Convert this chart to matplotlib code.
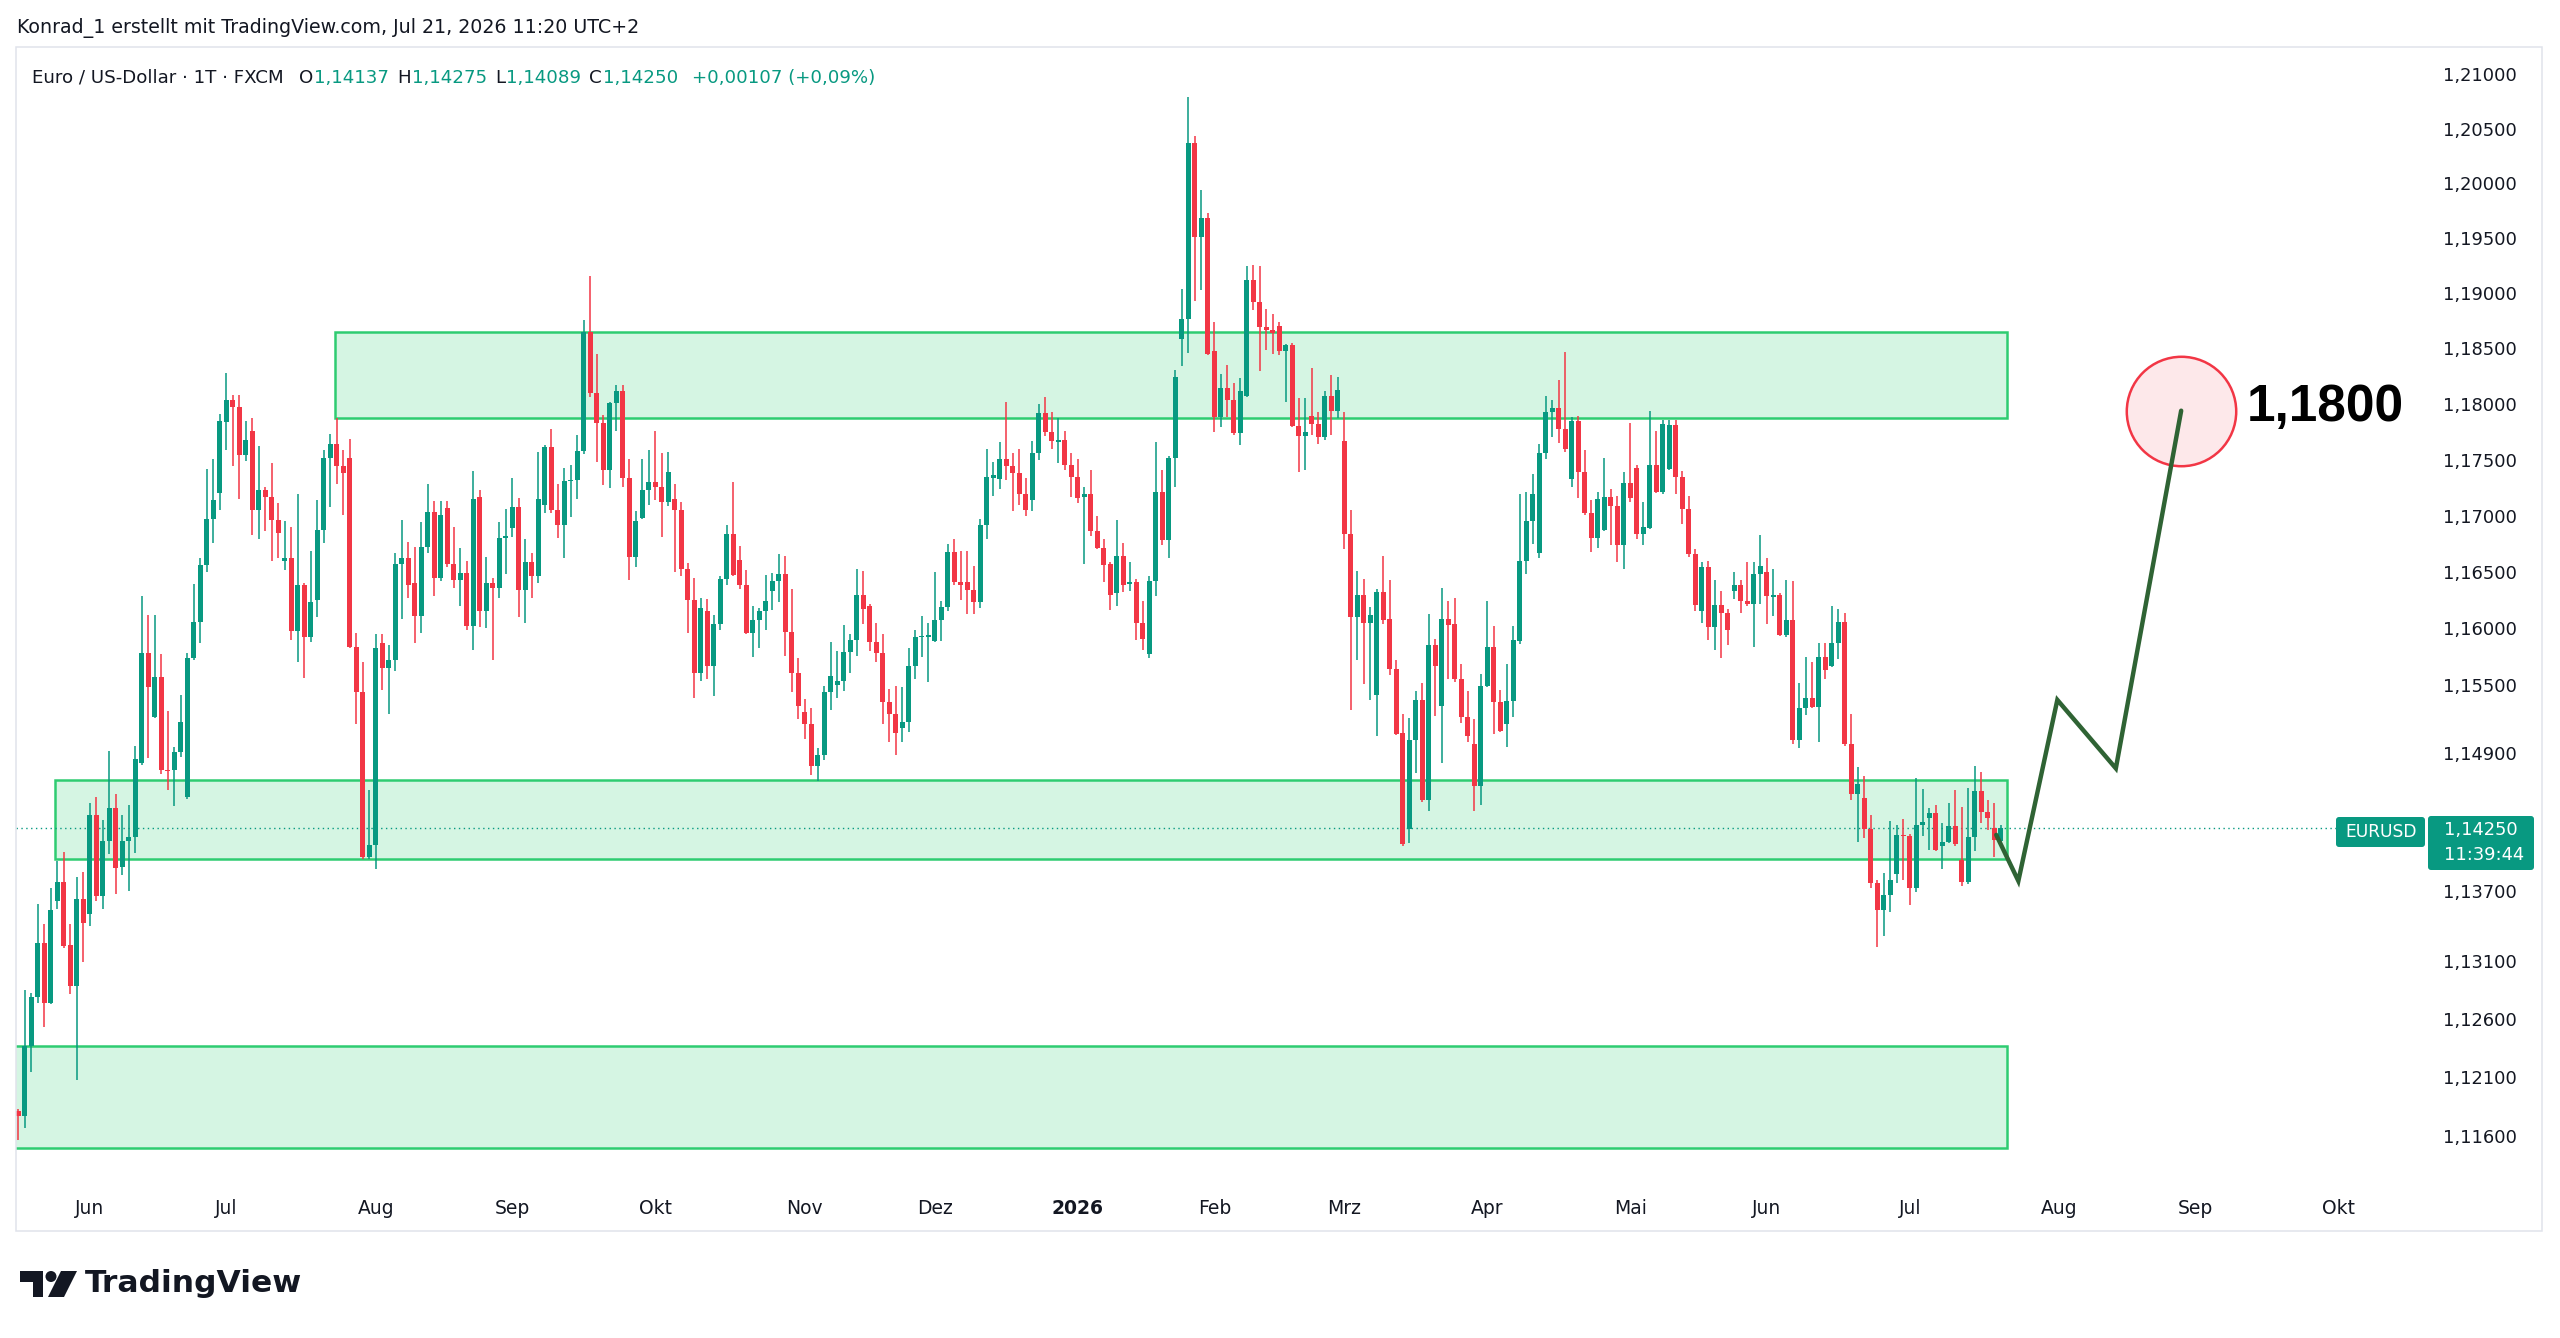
import numpy as np
import pandas as pd
import matplotlib
matplotlib.use('Agg')
import matplotlib.pyplot as plt
from matplotlib.patches import Rectangle, Polygon, Circle, FancyBboxPatch
from matplotlib.ticker import FixedLocator, NullLocator, NullFormatter
from matplotlib.transforms import IdentityTransform

W, H = 2560, 1338

# daily EURUSD candles, 2025-05-16 .. 2026-07-21 (FXCM, no bars on Dec 25 / Jan 1)
opens = [
    1.1181, 1.1177, 1.1237, 1.1279, 1.1325, 1.1274, 1.1362, 1.1378, 1.1324, 1.1288,
    1.1363, 1.1350, 1.1436, 1.1366, 1.1414, 1.1442, 1.1391, 1.1414, 1.1417, 1.1482,
    1.1578, 1.1522, 1.1557, 1.1476, 1.1476, 1.1491, 1.1452, 1.1574, 1.1606, 1.1656,
    1.1697, 1.1720, 1.1784, 1.1804, 1.1797, 1.1754, 1.1776, 1.1705, 1.1723, 1.1717,
    1.1696, 1.1660, 1.1662, 1.1598, 1.1638, 1.1592, 1.1625, 1.1687, 1.1752, 1.1764,
    1.1744, 1.1752, 1.1584, 1.1544, 1.1400, 1.1410, 1.1587, 1.1565, 1.1572, 1.1657,
    1.1662, 1.1640, 1.1611, 1.1672, 1.1703, 1.1645, 1.1707, 1.1657, 1.1643, 1.1649,
    1.1602, 1.1717, 1.1615, 1.1640, 1.1636, 1.1680, 1.1689, 1.1708, 1.1634, 1.1659,
    1.1646, 1.1710, 1.1761, 1.1705, 1.1692, 1.1731, 1.1732, 1.1758, 1.1865, 1.1810,
    1.1783, 1.1741, 1.1801, 1.1812, 1.1734, 1.1663, 1.1698, 1.1723, 1.1730, 1.1726,
    1.1712, 1.1715, 1.1705, 1.1653, 1.1625, 1.1561, 1.1615, 1.1567, 1.1604, 1.1644,
    1.1684, 1.1661, 1.1638, 1.1596, 1.1607, 1.1615, 1.1633, 1.1642, 1.1648, 1.1597,
    1.1561, 1.1526, 1.1516, 1.1479, 1.1489, 1.1544, 1.1550, 1.1554, 1.1579, 1.1590,
    1.1630, 1.1620, 1.1588, 1.1578, 1.1535, 1.1525, 1.1512, 1.1518, 1.1567, 1.1592,
    1.1592, 1.1589, 1.1607, 1.1619, 1.1668, 1.1641, 1.1641, 1.1634, 1.1623, 1.1692,
    1.1734, 1.1733, 1.1751, 1.1744, 1.1738, 1.1719, 1.1714, 1.1756, 1.1792, 1.1775,
    1.1766, 1.1768, 1.1745, 1.1735, 1.1717, 1.1719, 1.1686, 1.1671, 1.1657, 1.1631,
    1.1664, 1.1639, 1.1641, 1.1605, 1.1577, 1.1642, 1.1721, 1.1678, 1.1752, 1.1859,
    1.1877, 1.2037, 1.1951, 1.1968, 1.1848, 1.1788, 1.1814, 1.1804, 1.1774, 1.1807,
    1.1912, 1.1892, 1.1869, 1.1867, 1.1870, 1.1848, 1.1853, 1.1780, 1.1771, 1.1789,
    1.1782, 1.1770, 1.1807, 1.1794, 1.1767, 1.1684, 1.1610, 1.1630, 1.1605, 1.1541,
    1.1632, 1.1608, 1.1564, 1.1508, 1.1424, 1.1502, 1.1537, 1.1449, 1.1585, 1.1532,
    1.1608, 1.1604, 1.1555, 1.1522, 1.1498, 1.1462, 1.1549, 1.1584, 1.1535, 1.1516,
    1.1536, 1.1589, 1.1660, 1.1695, 1.1667, 1.1756, 1.1793, 1.1796, 1.1778, 1.1733,
    1.1785, 1.1739, 1.1702, 1.1680, 1.1687, 1.1717, 1.1709, 1.1674, 1.1729, 1.1743,
    1.1684, 1.1689, 1.1745, 1.1721, 1.1742, 1.1781, 1.1735, 1.1706, 1.1666, 1.1615,
    1.1654, 1.1601, 1.1621, 1.1614, 1.1633, 1.1638, 1.1624, 1.1622, 1.1648, 1.1650,
    1.1628, 1.1630, 1.1594, 1.1607, 1.1502, 1.1530, 1.1539, 1.1531, 1.1575, 1.1567,
    1.1587, 1.1606, 1.1498, 1.1455, 1.1451, 1.1424, 1.1377, 1.1354, 1.1367, 1.1385,
    1.1419, 1.1418, 1.1373, 1.1428, 1.1434, 1.1438, 1.1409, 1.1413, 1.1427, 1.1397,
    1.1378, 1.1417, 1.1457, 1.1439, 1.1425, 1.14137,
]
highs = [
    1.1183, 1.1285, 1.1282, 1.1359, 1.1342, 1.1373, 1.1396, 1.1404, 1.1342, 1.1382,
    1.1387, 1.1447, 1.1452, 1.1432, 1.1492, 1.1455, 1.1436, 1.1445, 1.1497, 1.1629,
    1.1612, 1.1612, 1.1577, 1.1527, 1.1496, 1.1541, 1.1578, 1.1639, 1.1662, 1.1742,
    1.1751, 1.1791, 1.1828, 1.1808, 1.1808, 1.1785, 1.1787, 1.1762, 1.1726, 1.1747,
    1.1711, 1.1695, 1.1690, 1.1719, 1.1640, 1.1669, 1.1714, 1.1759, 1.1773, 1.1787,
    1.1759, 1.1769, 1.1596, 1.1570, 1.1458, 1.1595, 1.1595, 1.1585, 1.1667, 1.1696,
    1.1677, 1.1672, 1.1694, 1.1728, 1.1713, 1.1713, 1.1713, 1.1690, 1.1671, 1.1660,
    1.1740, 1.1723, 1.1663, 1.1645, 1.1694, 1.1706, 1.1734, 1.1716, 1.1679, 1.1667,
    1.1757, 1.1763, 1.1778, 1.1728, 1.1743, 1.1745, 1.1772, 1.1876, 1.1916, 1.1845,
    1.1790, 1.1802, 1.1817, 1.1817, 1.1751, 1.1704, 1.1751, 1.1759, 1.1776, 1.1756,
    1.1757, 1.1728, 1.1712, 1.1658, 1.1645, 1.1627, 1.1626, 1.1612, 1.1646, 1.1692,
    1.1730, 1.1673, 1.1652, 1.1620, 1.1618, 1.1647, 1.1649, 1.1666, 1.1664, 1.1635,
    1.1574, 1.1538, 1.1530, 1.1495, 1.1549, 1.1588, 1.1580, 1.1603, 1.1595, 1.1653,
    1.1651, 1.1622, 1.1605, 1.1595, 1.1547, 1.1549, 1.1548, 1.1583, 1.1599, 1.1611,
    1.1605, 1.1650, 1.1624, 1.1675, 1.1679, 1.1669, 1.1669, 1.1655, 1.1697, 1.1760,
    1.1748, 1.1766, 1.1802, 1.1756, 1.1760, 1.1734, 1.1767, 1.1800, 1.1806, 1.1793,
    1.1787, 1.1776, 1.1756, 1.1751, 1.1726, 1.1741, 1.1700, 1.1679, 1.1659, 1.1696,
    1.1676, 1.1659, 1.1644, 1.1624, 1.1646, 1.1766, 1.1741, 1.1753, 1.1831, 1.1904,
    1.2079, 1.2043, 1.1994, 1.1973, 1.1874, 1.1827, 1.1835, 1.1819, 1.1823, 1.1925,
    1.1926, 1.1925, 1.1886, 1.1881, 1.1874, 1.1854, 1.1855, 1.1805, 1.1805, 1.1832,
    1.1793, 1.1812, 1.1826, 1.1824, 1.1793, 1.1705, 1.1651, 1.1644, 1.1619, 1.1635,
    1.1664, 1.1643, 1.1572, 1.1525, 1.1521, 1.1545, 1.1552, 1.1613, 1.1591, 1.1636,
    1.1624, 1.1627, 1.1569, 1.1545, 1.1520, 1.1560, 1.1624, 1.1602, 1.1546, 1.1569,
    1.1602, 1.1719, 1.1721, 1.1737, 1.1764, 1.1807, 1.1804, 1.1822, 1.1847, 1.1788,
    1.1789, 1.1759, 1.1714, 1.1721, 1.1752, 1.1724, 1.1718, 1.1739, 1.1783, 1.1745,
    1.1712, 1.1794, 1.1776, 1.1786, 1.1786, 1.1786, 1.1740, 1.1718, 1.1670, 1.1659,
    1.1660, 1.1643, 1.1633, 1.1617, 1.1650, 1.1643, 1.1659, 1.1659, 1.1683, 1.1662,
    1.1653, 1.1631, 1.1643, 1.1642, 1.1552, 1.1575, 1.1570, 1.1587, 1.1587, 1.1620,
    1.1617, 1.1614, 1.1525, 1.1478, 1.1470, 1.1436, 1.1380, 1.1386, 1.1431, 1.1428,
    1.1433, 1.1420, 1.1469, 1.1459, 1.1442, 1.1445, 1.1429, 1.1447, 1.1458, 1.1443,
    1.1460, 1.1479, 1.1474, 1.1449, 1.1447, 1.14275,
]
lows = [
    1.1157, 1.1167, 1.1215, 1.1274, 1.1253, 1.1273, 1.1355, 1.1321, 1.1281, 1.1208,
    1.1309, 1.1340, 1.1362, 1.1355, 1.1402, 1.1368, 1.1384, 1.1370, 1.1403, 1.1480,
    1.1486, 1.1521, 1.1472, 1.1458, 1.1444, 1.1487, 1.1450, 1.1572, 1.1587, 1.1650,
    1.1676, 1.1705, 1.1759, 1.1744, 1.1715, 1.1749, 1.1683, 1.1679, 1.1686, 1.1660,
    1.1662, 1.1652, 1.1590, 1.1570, 1.1556, 1.1588, 1.1610, 1.1676, 1.1708, 1.1728,
    1.1701, 1.1583, 1.1516, 1.1398, 1.1398, 1.1389, 1.1546, 1.1525, 1.1562, 1.1608,
    1.1627, 1.1587, 1.1596, 1.1667, 1.1629, 1.1642, 1.1654, 1.1636, 1.1620, 1.1599,
    1.1581, 1.1601, 1.1600, 1.1572, 1.1627, 1.1648, 1.1681, 1.1610, 1.1605, 1.1627,
    1.1640, 1.1702, 1.1702, 1.1680, 1.1662, 1.1699, 1.1715, 1.1755, 1.1806, 1.1748,
    1.1727, 1.1725, 1.1776, 1.1726, 1.1643, 1.1654, 1.1697, 1.1710, 1.1714, 1.1681,
    1.1709, 1.1650, 1.1646, 1.1596, 1.1539, 1.1554, 1.1555, 1.1540, 1.1599, 1.1638,
    1.1646, 1.1635, 1.1595, 1.1575, 1.1583, 1.1599, 1.1616, 1.1623, 1.1576, 1.1544,
    1.1520, 1.1503, 1.1471, 1.1466, 1.1484, 1.1528, 1.1539, 1.1545, 1.1561, 1.1576,
    1.1604, 1.1580, 1.1570, 1.1516, 1.1500, 1.1489, 1.1500, 1.1509, 1.1555, 1.1575,
    1.1553, 1.1588, 1.1589, 1.1615, 1.1638, 1.1625, 1.1613, 1.1613, 1.1618, 1.1679,
    1.1718, 1.1724, 1.1732, 1.1704, 1.1710, 1.1700, 1.1704, 1.1750, 1.1771, 1.1760,
    1.1747, 1.1741, 1.1717, 1.1711, 1.1657, 1.1682, 1.1670, 1.1641, 1.1616, 1.1620,
    1.1632, 1.1633, 1.1590, 1.1581, 1.1574, 1.1629, 1.1674, 1.1662, 1.1726, 1.1834,
    1.1846, 1.1893, 1.1903, 1.1844, 1.1775, 1.1779, 1.1788, 1.1772, 1.1763, 1.1806,
    1.1885, 1.1830, 1.1849, 1.1845, 1.1844, 1.1802, 1.1779, 1.1739, 1.1741, 1.1772,
    1.1764, 1.1768, 1.1772, 1.1787, 1.1670, 1.1528, 1.1572, 1.1551, 1.1537, 1.1505,
    1.1604, 1.1559, 1.1506, 1.1409, 1.1412, 1.1473, 1.1448, 1.1440, 1.1523, 1.1482,
    1.1555, 1.1553, 1.1517, 1.1500, 1.1440, 1.1445, 1.1548, 1.1507, 1.1509, 1.1496,
    1.1522, 1.1586, 1.1648, 1.1675, 1.1662, 1.1751, 1.1770, 1.1765, 1.1757, 1.1726,
    1.1716, 1.1701, 1.1668, 1.1671, 1.1686, 1.1674, 1.1659, 1.1653, 1.1712, 1.1679,
    1.1674, 1.1688, 1.1720, 1.1719, 1.1741, 1.1719, 1.1693, 1.1663, 1.1615, 1.1605,
    1.1590, 1.1581, 1.1574, 1.1585, 1.1626, 1.1614, 1.1620, 1.1584, 1.1622, 1.1604,
    1.1611, 1.1593, 1.1592, 1.1498, 1.1495, 1.1524, 1.1530, 1.1500, 1.1555, 1.1566,
    1.1573, 1.1497, 1.1449, 1.1413, 1.1416, 1.1373, 1.1322, 1.1331, 1.1352, 1.1377,
    1.1380, 1.1358, 1.1369, 1.1418, 1.1406, 1.1405, 1.1389, 1.1412, 1.1409, 1.1375,
    1.1376, 1.1405, 1.1429, 1.1423, 1.1400, 1.14089,
]
closes = [
    1.1177, 1.1237, 1.1279, 1.1325, 1.1274, 1.1354, 1.1378, 1.1323, 1.1288, 1.1363,
    1.1343, 1.1436, 1.1366, 1.1414, 1.1442, 1.1390, 1.1414, 1.1417, 1.1485, 1.1578,
    1.1548, 1.1557, 1.1476, 1.1475, 1.1491, 1.1518, 1.1574, 1.1606, 1.1656, 1.1697,
    1.1714, 1.1785, 1.1804, 1.1797, 1.1754, 1.1768, 1.1705, 1.1723, 1.1717, 1.1696,
    1.1685, 1.1662, 1.1598, 1.1638, 1.1592, 1.1623, 1.1687, 1.1752, 1.1764, 1.1744,
    1.1738, 1.1584, 1.1544, 1.1400, 1.1410, 1.1583, 1.1565, 1.1572, 1.1657, 1.1662,
    1.1638, 1.1611, 1.1672, 1.1703, 1.1645, 1.1701, 1.1657, 1.1643, 1.1649, 1.1602,
    1.1715, 1.1615, 1.1640, 1.1636, 1.1680, 1.1682, 1.1708, 1.1634, 1.1659, 1.1646,
    1.1715, 1.1761, 1.1705, 1.1692, 1.1731, 1.1732, 1.1758, 1.1865, 1.1810, 1.1783,
    1.1741, 1.1801, 1.1812, 1.1734, 1.1663, 1.1695, 1.1723, 1.1730, 1.1726, 1.1712,
    1.1739, 1.1705, 1.1653, 1.1625, 1.1561, 1.1618, 1.1567, 1.1604, 1.1644, 1.1684,
    1.1647, 1.1638, 1.1596, 1.1607, 1.1615, 1.1624, 1.1642, 1.1648, 1.1597, 1.1561,
    1.1532, 1.1516, 1.1479, 1.1489, 1.1544, 1.1558, 1.1554, 1.1579, 1.1590, 1.1630,
    1.1617, 1.1588, 1.1578, 1.1535, 1.1525, 1.1508, 1.1518, 1.1567, 1.1592, 1.1593,
    1.1594, 1.1607, 1.1619, 1.1668, 1.1641, 1.1638, 1.1634, 1.1623, 1.1692, 1.1735,
    1.1736, 1.1751, 1.1744, 1.1738, 1.1719, 1.1705, 1.1756, 1.1792, 1.1775, 1.1767,
    1.1768, 1.1745, 1.1735, 1.1716, 1.1719, 1.1686, 1.1671, 1.1656, 1.1630, 1.1664,
    1.1638, 1.1641, 1.1605, 1.1591, 1.1642, 1.1721, 1.1678, 1.1752, 1.1824, 1.1877,
    1.2037, 1.1951, 1.1968, 1.1845, 1.1788, 1.1814, 1.1804, 1.1774, 1.1812, 1.1912,
    1.1892, 1.1869, 1.1867, 1.1864, 1.1848, 1.1853, 1.1780, 1.1771, 1.1775, 1.1782,
    1.1770, 1.1807, 1.1794, 1.1813, 1.1684, 1.1610, 1.1630, 1.1605, 1.1612, 1.1632,
    1.1607, 1.1564, 1.1507, 1.1411, 1.1502, 1.1537, 1.1449, 1.1585, 1.1567, 1.1608,
    1.1603, 1.1555, 1.1522, 1.1505, 1.1462, 1.1549, 1.1584, 1.1535, 1.1510, 1.1536,
    1.1590, 1.1660, 1.1695, 1.1719, 1.1756, 1.1793, 1.1796, 1.1778, 1.1760, 1.1785,
    1.1739, 1.1702, 1.1680, 1.1715, 1.1717, 1.1709, 1.1674, 1.1729, 1.1716, 1.1684,
    1.1690, 1.1745, 1.1721, 1.1782, 1.1781, 1.1735, 1.1706, 1.1666, 1.1621, 1.1654,
    1.1601, 1.1621, 1.1614, 1.1599, 1.1638, 1.1624, 1.1622, 1.1648, 1.1655, 1.1629,
    1.1630, 1.1594, 1.1607, 1.1502, 1.1530, 1.1539, 1.1531, 1.1575, 1.1563, 1.1587,
    1.1606, 1.1498, 1.1455, 1.1463, 1.1424, 1.1377, 1.1354, 1.1367, 1.1380, 1.1419,
    1.1418, 1.1373, 1.1428, 1.1430, 1.1438, 1.1406, 1.1413, 1.1427, 1.1411, 1.1378,
    1.1417, 1.1457, 1.1439, 1.1434, 1.14143, 1.14250,
]

# drawings on the chart (bar index, price)
zones = [  # left, right, low, high
    (48.7, 306.0, 1.1787, 1.1865),
    (5.65, 306.0, 1.1398, 1.1467),
    (-3.0, 306.0, 1.1150, 1.1237),
]
path_x = [304.3, 307.7, 313.7, 322.7, 332.75]
path_y = [1.1419, 1.1379, 1.1537, 1.1477, 1.1794]
target_label = "1,1800"

price_ticks = [1.21, 1.205, 1.20, 1.195, 1.19, 1.185, 1.18, 1.175, 1.17, 1.165,
               1.16, 1.155, 1.149, 1.137, 1.131, 1.126, 1.121, 1.116]
month_names = ['Jan', 'Feb', 'Mrz', 'Apr', 'Mai', 'Jun', 'Jul', 'Aug', 'Sep',
               'Okt', 'Nov', 'Dez']
holidays = pd.to_datetime(['2025-12-25', '2026-01-01'])

GREEN = '#089981'
RED = '#f23645'
INK = '#131722'


def fmt(v, sign=False):
    s = f"{v:+.5f}" if sign else f"{v:.5f}"
    return s.replace('.', ',')


o = np.array(opens)
h = np.array(highs)
l = np.array(lows)
c = np.array(closes)
x = np.arange(len(c))

dates = pd.bdate_range('2025-05-16', '2026-10-30')
dates = dates[~dates.isin(holidays)]

fig = plt.figure(figsize=(W / 100, H / 100), dpi=100)
fig.patch.set_facecolor('white')


def fx(px):
    return px / W


def fy(py):
    return 1 - py / H


ax = fig.add_axes([fx(16), fy(1188), fx(2427) - fx(16), fy(47) - fy(1188)])
ax.set_yscale('log')
ax.set_ylim(1.111593, 1.21253)
ax.set_xlim(-0.354, 370.57)
for s in ax.spines.values():
    s.set_visible(False)

# zones
for x0, x1, y0, y1 in zones:
    ax.add_patch(Rectangle((x0, y0), x1 - x0, y1 - y0, facecolor='#d5f5e3',
                           edgecolor='#2ecc71', lw=1.8, zorder=1))

# last price line
ax.axhline(c[-1], color=GREEN, lw=1, ls=(0, (1, 2.5)), zorder=2)

# candles
up = c >= o
col = np.where(up, GREEN, RED)
ax.vlines(x, l, h, colors=col, lw=1.1, zorder=3)
ax.bar(x, np.maximum(np.abs(c - o), 0.00009), bottom=np.minimum(o, c),
       width=0.74, color=col, linewidth=0, zorder=4)

# projection path and target
ax.plot([path_x[-1]], [path_y[-1]], 'o', ms=78.8, mfc='#fde8ea', mec=RED,
        mew=1.8, zorder=5)
ax.plot(path_x, path_y, color='#2f6334', lw=3.2, solid_joinstyle='miter',
        solid_capstyle='round', zorder=6)
tgt = ax.annotate(target_label, xy=(path_x[-1], path_y[-1]), xytext=(47, -7.4),
                  textcoords='offset points', ha='left', va='baseline',
                  fontsize=36, fontweight='bold', family='Liberation Sans',
                  color='black', zorder=7)

# price scale
ax.yaxis.tick_right()
ax.yaxis.set_major_locator(FixedLocator(price_ticks))
ax.yaxis.set_minor_locator(NullLocator())
ax.yaxis.set_minor_formatter(NullFormatter())
ax.set_yticklabels([fmt(v) for v in price_ticks])
ax.tick_params(axis='y', length=0, pad=11.5, labelsize=12.9, labelcolor=INK)

# time scale
tick_pos, tick_lab = [], []
for i in range(1, len(dates)):
    if i > 371:
        break
    if dates[i].month != dates[i - 1].month:
        tick_pos.append(i)
        m = dates[i].month
        tick_lab.append(str(dates[i].year) if m == 1 else month_names[m - 1])
ax.set_xticks(tick_pos)
ax.set_xticklabels(tick_lab)
ax.tick_params(axis='x', length=0, pad=7.6, labelsize=13.5, labelcolor=INK)
for t in ax.get_xticklabels():
    if t.get_text().isdigit():
        t.set_fontweight('bold')

renderer = fig.canvas.get_renderer()


def fit(t, width_px):
    w = t.get_window_extent(renderer).width
    t.set_fontsize(t.get_fontsize() * width_px / w)


fit(tgt, 157)

# pane border
fig.add_artist(Rectangle((16, H - 1231), 2526, 1184, transform=IdentityTransform(),
                         fill=False, edgecolor='#e0e3eb', lw=1.1))

# header
t1 = fig.text(fx(17), fy(33.3), "Konrad_1 erstellt mit TradingView.com, Jul 21, 2026 11:20 UTC+2",
              fontsize=12.5, color=INK, va='baseline')
fit(t1, 623)

chg = c[-1] - c[-2]
pct = chg / c[-2] * 100
segments = [  # text, colour, gap before it (px)
    ("Euro / US-Dollar \u00b7 1T \u00b7 FXCM", INK, 0),
    ("O", INK, 16), (fmt(o[-1]), GREEN, 1),
    ("H", INK, 8), (fmt(h[-1]), GREEN, 1),
    ("L", INK, 8), (fmt(l[-1]), GREEN, 1),
    ("C", INK, 8), (fmt(c[-1]), GREEN, 1),
    (f"{fmt(chg, True)} ({pct:+.2f}%)".replace('.', ','), GREEN, 14),
]
seg_texts = [fig.text(0, fy(82.7), s, fontsize=12.0, color=cl, va='baseline')
             for s, cl, _ in segments]


def layout_line(size):
    xpos = 31.6
    for t, (_, _, gap) in zip(seg_texts, segments):
        t.set_fontsize(size)
        xpos += gap
        t.set_x(fx(xpos))
        xpos += t.get_window_extent(renderer).width
    return xpos - 31.6


size = 12.0
for _ in range(3):
    total = layout_line(size)
    size *= 849 / total
layout_line(size)

# last price tags
fig.add_artist(FancyBboxPatch((2336, H - 847), 89, 30, boxstyle='round,pad=0,rounding_size=3',
                              transform=IdentityTransform(), facecolor=GREEN, edgecolor='none'))
fig.add_artist(FancyBboxPatch((2428, H - 870), 106, 54, boxstyle='round,pad=0,rounding_size=3',
                              transform=IdentityTransform(), facecolor=GREEN, edgecolor='none'))
tag = fig.text(fx(2381), fy(832), "EURUSD", color='white', ha='center', va='center',
               fontsize=12.5)
fit(tag, 72)
fig.text(fx(2444), fy(830), fmt(c[-1]), color='white', va='center', fontsize=12.9)
fig.text(fx(2444), fy(855), "11:39:44", color='white', va='center', fontsize=12.9)

# TradingView logo
fig.add_artist(Polygon([(20, H - 1271), (43, H - 1271), (43, H - 1297), (33, H - 1297),
                        (33, H - 1282), (20, H - 1282)], closed=True,
                       transform=IdentityTransform(), facecolor=INK, edgecolor='none'))
fig.add_artist(Circle((51, H - 1276.5), 5.5, transform=IdentityTransform(),
                      facecolor=INK, edgecolor='none'))
fig.add_artist(Polygon([(61, H - 1271), (77, H - 1271), (64, H - 1297), (48, H - 1297)],
                       closed=True, transform=IdentityTransform(), facecolor=INK,
                       edgecolor='none'))
logo = fig.text(fx(85), fy(1292), "TradingView", fontsize=22, fontweight='bold',
                color=INK, va='baseline')
fit(logo, 217)

fig.savefig('out.png', dpi=100)
